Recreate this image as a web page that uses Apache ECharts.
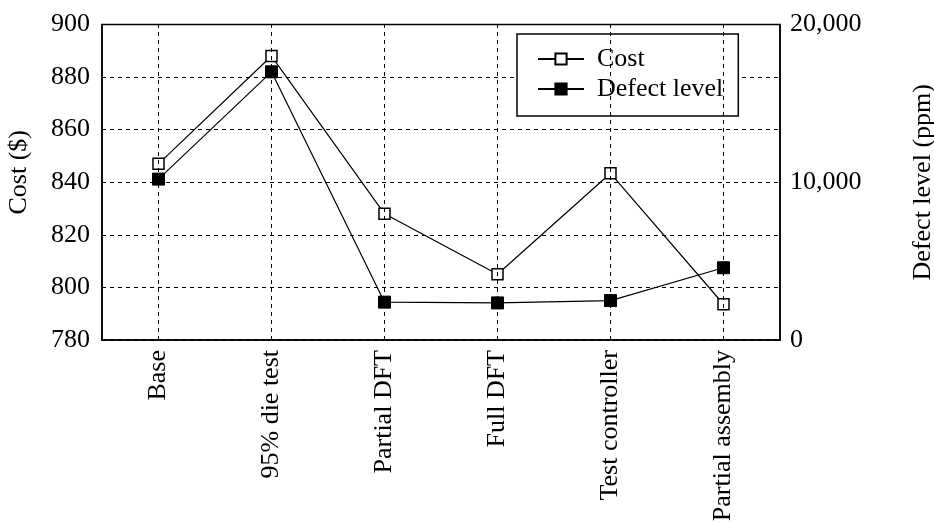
<!DOCTYPE html>
<html>
<head>
<meta charset="utf-8">
<script src="https://cdn.jsdelivr.net/npm/echarts@6/dist/echarts.min.js"></script>
<style>html,body{margin:0;padding:0;background:#fff}#c{width:934px;height:523px}</style>
</head>
<body>
<div id="c"></div>
<script>
const categories = ['Base', '95% die test', 'Partial DFT', 'Full DFT', 'Test controller', 'Partial assembly'];
const costValues = [847, 888, 828, 805, 843.4, 793.6];
const defectValues = [10200, 17000, 2400, 2350, 2500, 4580];
const costTicks = [780, 800, 820, 840, 860, 880, 900];
const defectTicks = [0, 10000, 20000];

const FONT = 'Liberation Serif';
const FS = 26;
const chart = echarts.init(document.getElementById('c'));
chart.setOption({
  animation: false,
  backgroundColor: '#fff',
  textStyle: { fontFamily: FONT, color: '#000' },
  grid: { left: 102, top: 24.5, right: 154, bottom: 183, outerBoundsMode: 'none', containLabel: false,
    show: true, borderColor: '#000', borderWidth: 1.5, backgroundColor: 'transparent' },
  legend: {
    orient: 'vertical', left: 517, top: 34,
    itemWidth: 46, itemHeight: 14, itemGap: 0,
    padding: [10, 15, 12, 20],
    borderColor: '#000', borderWidth: 1.5, backgroundColor: '#fff',
    textStyle: { fontFamily: FONT, fontSize: FS, lineHeight: 30, color: '#000', padding: [0, 0, 0, 8] },
    data: ['Cost', 'Defect level']
  },
  xAxis: {
    type: 'category', data: categories, boundaryGap: true,
    axisLine: { lineStyle: { color: '#000', width: 1.5 } },
    axisTick: { inside: true, alignWithLabel: true, length: 5, lineStyle: { color: '#000' } },
    axisLabel: { rotate: 90, fontFamily: FONT, fontSize: FS, color: '#000', margin: 10 },
    splitLine: { show: false }
  },
  yAxis: [{
    type: 'value', min: costTicks[0], max: costTicks[costTicks.length - 1], interval: 20,
    name: 'Cost ($)', nameLocation: 'middle', nameRotate: 90, nameGap: 70,
    nameTextStyle: { fontFamily: FONT, fontSize: FS, color: '#000', padding: [0, 0, 0, 20] },
    axisLine: { show: true, lineStyle: { color: '#000', width: 1.5 } },
    axisTick: { show: false },
    axisLabel: { fontFamily: FONT, fontSize: FS, color: '#000', margin: 12 },
    splitLine: { show: true, lineStyle: { color: '#000', type: [4, 4], width: 1 } }
  }, {
    type: 'value', min: defectTicks[0], max: defectTicks[defectTicks.length - 1], interval: 10000,
    name: 'Defect level (ppm)', nameLocation: 'middle', nameRotate: 90, nameGap: 130,
    nameTextStyle: { fontFamily: FONT, fontSize: FS, color: '#000' },
    axisLine: { show: true, lineStyle: { color: '#000', width: 1.5 } },
    axisTick: { show: false },
    axisLabel: { fontFamily: FONT, fontSize: FS, color: '#000', margin: 10,
      formatter: v => v.toLocaleString('en-US') },
    splitLine: { show: false }
  }],
  series: [{
    name: 'Cost', type: 'line', yAxisIndex: 0, data: costValues,
    symbol: 'rect', symbolSize: 11, showAllSymbol: true,
    lineStyle: { color: '#000', width: 1.2 },
    itemStyle: { color: '#fff', borderColor: '#000', borderWidth: 1.5 },
    z: 4,
    markLine: {
      silent: true, symbol: ['none', 'none'], label: { show: false },
      lineStyle: { color: '#000', type: [4, 4], width: 1 },
      data: categories.map(c => ({ xAxis: c }))
    }
  }, {
    name: 'Defect level', type: 'line', yAxisIndex: 1, data: defectValues,
    symbol: 'rect', symbolSize: 12, showAllSymbol: true,
    lineStyle: { color: '#000', width: 1.2 },
    itemStyle: { color: '#000', borderColor: '#000', borderWidth: 1 },
    z: 3
  }]
});
</script>
</body>
</html>
